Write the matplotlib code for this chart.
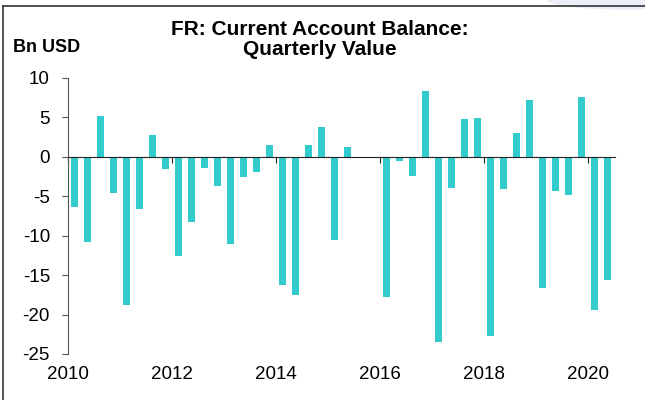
import matplotlib
matplotlib.use("Agg")
import matplotlib.pyplot as plt
from matplotlib.lines import Line2D
from matplotlib.patches import Ellipse
import matplotlib.transforms as mtransforms

plt.rcParams['font.family'] = ['Liberation Sans', 'DejaVu Sans']

# quarterly current account balance, 2010Q1 .. 2020Q2 (Bn USD)
quarters = ["2010Q1", "2010Q2", "2010Q3", "2010Q4",
            "2011Q1", "2011Q2", "2011Q3", "2011Q4",
            "2012Q1", "2012Q2", "2012Q3", "2012Q4",
            "2013Q1", "2013Q2", "2013Q3", "2013Q4",
            "2014Q1", "2014Q2", "2014Q3", "2014Q4",
            "2015Q1", "2015Q2", "2015Q3", "2015Q4",
            "2016Q1", "2016Q2", "2016Q3", "2016Q4",
            "2017Q1", "2017Q2", "2017Q3", "2017Q4",
            "2018Q1", "2018Q2", "2018Q3", "2018Q4",
            "2019Q1", "2019Q2", "2019Q3", "2019Q4",
            "2020Q1", "2020Q2"]
values = [-6.3, -10.8, 5.2, -4.6,
          -18.8, -6.6, 2.75, -1.6,
          -12.6, -8.3, -1.4, -3.7,
          -11.0, -2.5, -1.95, 1.45,
          -16.2, -17.5, 1.5, 3.75,
          -10.5, 1.3, 0.0, 0.0,
          -17.8, -0.55, -2.45, 8.35,
          -23.5, -4.0, 4.75, 4.9,
          -22.7, -4.1, 3.05, 7.2,
          -16.65, -4.35, -4.9, 7.55,
          -19.45, -15.6]
years = [2010, 2012, 2014, 2016, 2018, 2020]
yticks = [10, 5, 0, -5, -10, -15, -20, -25]

# bar centres in the middle of each quarter
x = [int(q[:4]) + (int(q[-1]) - 0.5) / 4 for q in quarters]

fig = plt.figure(figsize=(6.45, 4.0), dpi=100)
ax = fig.add_axes([0.1054, 0.115, 0.848, 0.69])

ax.bar(x, values, width=0.15, color="#33CCCC", zorder=2)

ax.set_xlim(2010, 2020.52)
ax.set_ylim(-25, 10)
ax.set_yticks(yticks)
ax.set_yticklabels([str(v) for v in yticks], fontsize=13.5)
ax.tick_params(axis="y", direction="out", length=4, color="#555555", pad=9)

ax.spines["top"].set_visible(False)
ax.spines["right"].set_visible(False)
ax.spines["left"].set_color("#555555")
ax.spines["bottom"].set_position(("data", 0))
ax.spines["bottom"].set_color("#222222")
ax.spines["bottom"].set_zorder(3)
ax.set_xticks(years)
ax.tick_params(axis="x", direction="out", length=4, color="#222222", labelbottom=False)

trans = mtransforms.blended_transform_factory(ax.transData, ax.transAxes)
for yr in years:
    ax.text(yr, -0.045, str(yr), transform=trans, ha="center", va="top", fontsize=13.5)

fig.text(0.496, 0.927, "FR: Current Account Balance:", ha="center", va="center",
         fontsize=15, fontweight="bold")
fig.text(0.496, 0.877, "Quarterly Value", ha="center", va="center",
         fontsize=15, fontweight="bold")
fig.text(0.02, 0.88, "Bn USD", ha="left", va="center", fontsize=13, fontweight="bold")

# frame lines and faint logo shape in the corner
fig.add_artist(Ellipse((0.97, 1.0), 0.24, 0.045, transform=fig.transFigure, color="#ECEEF8", zorder=0))
fig.add_artist(Line2D([0.005, 0.005], [0.0, 0.985], transform=fig.transFigure, color="#333333", lw=1.2))
fig.add_artist(Line2D([0.005, 1.0], [0.985, 0.985], transform=fig.transFigure, color="#333333", lw=1.2))

fig.savefig("out.png", dpi=100)
